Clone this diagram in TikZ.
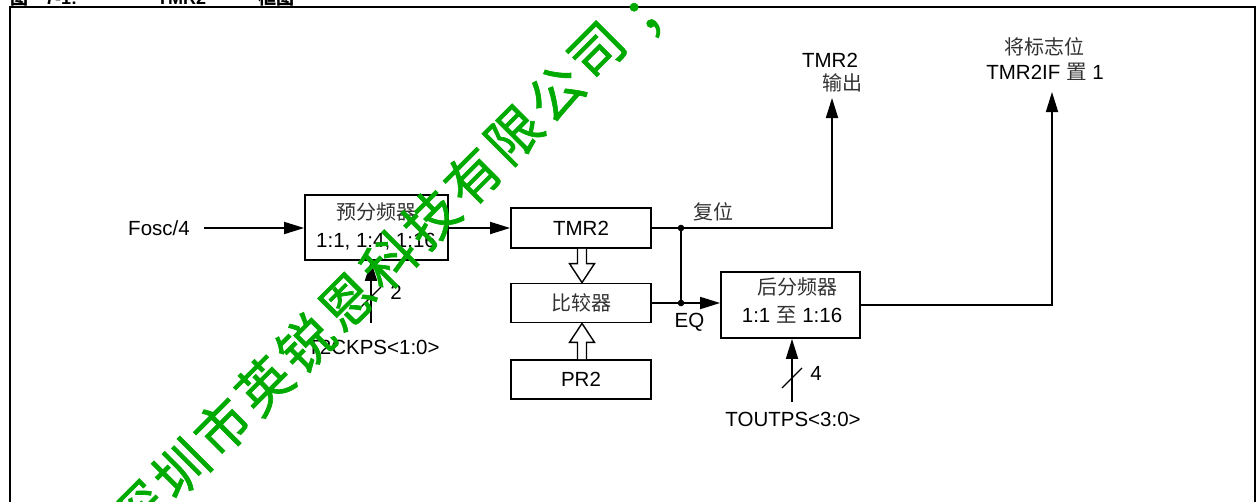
\documentclass[tikz,border=0pt]{standalone}
\usepackage{fontspec}
\setmainfont{Liberation Sans}
\newfontfamily\cjk{Noto Sans CJK SC}
\newfontfamily\cjkwm[FakeBold=1.2]{Noto Sans CJK SC}
\usetikzlibrary{arrows.meta,calc}
\definecolor{wmgreen}{RGB}{0,170,0}
\definecolor{cngray}{RGB}{50,50,50}
\begin{document}
\begin{tikzpicture}[x=1pt,y=-1pt,
  lbl/.style={font=\fontsize{20.5}{24}\selectfont, inner sep=0pt},
  cn/.style={font=\cjk\fontsize{20}{24}\selectfont, text=cngray, inner sep=0pt},
  blk/.style={draw, line width=1.8pt, inner sep=0pt},
  ln/.style={line width=1.8pt},
  arr/.style={line width=1.8pt, -{Triangle[length=20pt,width=12pt]}},
  hollow/.style={draw, fill=white, line width=1.4pt, line join=miter},
  busmark/.style={line width=1.2pt},
  ttl/.style={font=\bfseries\fontsize{18}{20}\selectfont, inner sep=0pt, anchor=base west},
  wmk/.style={font=\cjkwm\fontsize{54}{54}\selectfont, text=wmgreen, rotate=45, inner sep=0pt},
]
\useasboundingbox (0,0) rectangle (1257,501);
\begin{scope}
\clip (0,0) rectangle (1257,501);

% title (cut off at top)
\node[ttl] (t1) at (10,4.5) {\cjk\bfseries 图};
\node[ttl] (t2) at (45,4.5) {7-1:};
\node[ttl] (t3) at (157,4.5) {TMR2};
\node[ttl] (t4) at (258,4.5) {\cjk\bfseries 框图};

% frame
\draw[line width=2.3pt] (10,520) -- (10,7) -- (1255,7) -- (1255,520);

% blocks
\node[blk, minimum width=143pt, minimum height=65pt] (pre) at (376.5,227.5) {};
\node[cn] (preA) at (376,212) {预分频器};
\node[lbl] (preB) at (376,242) {1:1, 1:4, 1:16};

\node[blk, minimum width=140pt, minimum height=40pt] (tmr) at (581,228) {};
\node[lbl] (tmrT) at (tmr) {TMR2};
\node[blk, minimum width=140pt, minimum height=39pt] (cmp) at (581,303) {};
\node[cn] (cmpT) at (cmp) {比较器};
\node[blk, minimum width=140pt, minimum height=39pt] (pr) at (581,379.5) {};
\node[lbl] (prT) at (pr) {PR2};

\node[blk, minimum width=139pt, minimum height=66pt] (post) at (790.5,305) {};
\node[cn] (postA) at (797,287) {后分频器};
\node[lbl] (postB) at (792,315) {1:1 {\cjk\color{cngray}至} 1:16};

% labels
\node[lbl] (fosc) at (159,228) {Fosc/4};
\node[lbl] (two) at (396,292) {2};
\node[lbl] (t2ck) at (373.5,347) {T2CKPS<1:0>};
\node[lbl] (four) at (816,373) {4};
\node[lbl] (tout) at (793,419) {TOUTPS<3:0>};
\node[cn] (rst) at (713,212) {复位};
\node[lbl] (eq) at (689.5,322) {EQ};
\node[lbl] (outA) at (830,60) {TMR2};
\node[cn] (outB) at (842,83) {输出};
\node[cn] (flgA) at (1044,47) {将标志位};
\node[lbl] (flgB) at (1045,72) {TMR2IF {\cjk\color{cngray}置} 1};

% coordinates
\coordinate (foscR) at (204,228);
\coordinate (j1) at (681,228);
\coordinate (j2) at (681,303);
\coordinate (o1) at (832,98);
\coordinate (o2) at (1052,92);
\coordinate (t2bot) at (371,323);
\coordinate (s2) at (371,297);
\coordinate (tobot) at (792,402);
\coordinate (s4) at (792,378);

% connectors
\draw[arr] (foscR) -- (foscR -| pre.west);
\draw[arr] (tmr.west -| pre.east) -- (tmr.west);
\draw[arr] (tmr.east) -| (o1);
\draw[ln] (j1) -- (j2);
\draw[arr] (cmp.east) -- (cmp.east -| post.west);
\fill (j1) circle (3.3pt);
\fill (j2) circle (3.3pt);
\draw[arr] (post.east) -| (o2);
\draw[arr] (t2bot) -- (t2bot |- pre.south);
\draw[busmark] ($(s2)+(-10,10)$) -- ($(s2)+(10,-10)$);
\draw[arr] (tobot) -- (tobot |- post.south);
\draw[busmark] ($(s4)+(-10,10)$) -- ($(s4)+(10,-10)$);

% hollow bus arrows
\draw[hollow] ($(tmr.south)+(-3.5,0)$) -- ($(cmp.north)+(-3.5,-19)$) -- ($(cmp.north)+(-11.5,-19)$) -- ($(cmp.north)+(1,0)$) -- ($(cmp.north)+(13.5,-19)$) -- ($(cmp.north)+(5.5,-19)$) -- ($(tmr.south)+(5.5,0)$);
\draw[hollow] ($(pr.north)+(-3.5,0)$) -- ($(cmp.south)+(-3.5,19)$) -- ($(cmp.south)+(-11.5,19)$) -- ($(cmp.south)+(1,0)$) -- ($(cmp.south)+(13.5,19)$) -- ($(cmp.south)+(5.5,19)$) -- ($(pr.north)+(5.5,0)$);

% watermark
\foreach \c [count=\i from 0] in {深,圳,市,英,锐,恩,科,技,有,限,公,司} {
  \pgfmathsetmacro\wx{389+(\i-6)*41.7}
  \pgfmathsetmacro\wy{260-(\i-6)*41.7}
  \node[wmk] (w\i) at (\wx,\wy) {\c};
}
\node[wmk] (w12) at (656,10) {；};
\end{scope}
\end{tikzpicture}
\end{document}
